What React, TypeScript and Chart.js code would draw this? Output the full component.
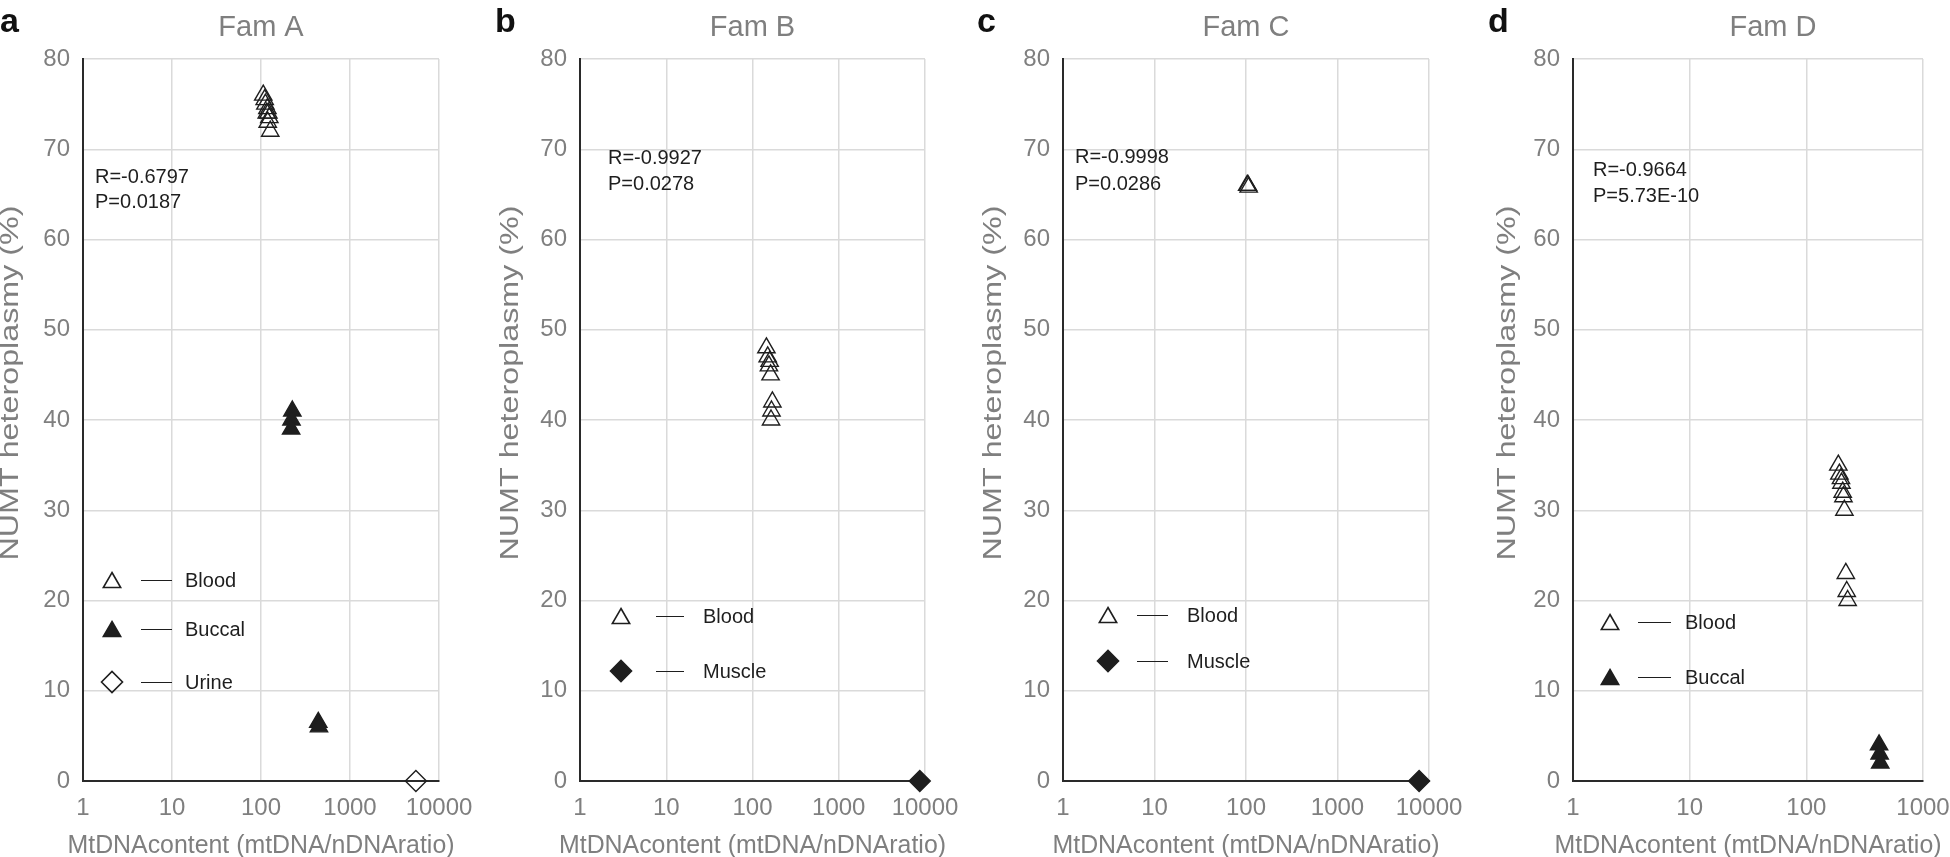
import React, { useEffect, useRef } from "react";
import { Chart, registerables } from "chart.js";
import { drawPoint } from "chart.js/helpers";

Chart.register(...registerables);

const FONT = '"Liberation Sans", Arial, Helvetica, sans-serif';
const GRAY = "#7f7f7f";
const INK = "#1e1e1e";
const GRID = "#dadada";
const AXIS = "#2a2a2a";

const Y_TITLE = "NUMT heteroplasmy (%)";
const X_TITLE = "MtDNAcontent (mtDNA/nDNAratio)";

// tick values
const xTicksWide = [1, 10, 100, 1000, 10000];
const xTicksNarrow = [1, 10, 100, 1000];

// Fam A
const famA_bloodX = [106, 110, 112, 118, 121, 116, 124, 119, 127];
const famA_bloodY = [76, 75.5, 75, 74.5, 74, 74, 73.5, 73, 72];
const famA_buccalX = [225, 220, 218, 440, 448];
const famA_buccalY = [41, 40, 39, 6.5, 6];
const famA_urineX = [5500];
const famA_urineY = [0];
const famA_stats = ["R=-0.6797", "P=0.0187"];

// Fam B
const famB_bloodX = [145, 150, 158, 155, 162, 170, 166, 164];
const famB_bloodY = [48, 47, 46.5, 46, 45, 42, 41, 40];
const famB_muscleX = [8700];
const famB_muscleY = [0];
const famB_stats = ["R=-0.9927", "P=0.0278"];

// Fam C
const famC_bloodX = [103, 105, 107];
const famC_bloodY = [66, 66, 65.8];
const famC_muscleX = [7800];
const famC_muscleY = [0];
const famC_stats = ["R=-0.9998", "P=0.0286"];

// Fam D
const famD_bloodX = [188, 192, 198, 200, 205, 208, 212, 218, 222, 226];
const famD_bloodY = [35, 34, 33.5, 33, 32, 31.5, 30, 23, 21, 20];
const famD_buccalX = [420, 425, 430];
const famD_buccalY = [4, 3, 2];
const famD_stats = ["R=-0.9664", "P=5.73E-10"];

type Shape = "triangle" | "rectRot";
type Series = { label: string; x: number[]; y: number[]; shape: Shape; filled: boolean };

const blood = (x: number[], y: number[]): Series => ({ label: "Blood", x, y, shape: "triangle", filled: false });
const buccal = (x: number[], y: number[]): Series => ({ label: "Buccal", x, y, shape: "triangle", filled: true });
const urine = (x: number[], y: number[]): Series => ({ label: "Urine", x, y, shape: "rectRot", filled: false });
const muscle = (x: number[], y: number[]): Series => ({ label: "Muscle", x, y, shape: "rectRot", filled: true });

const panels = [
  {
    letter: "a", title: "Fam A", left: 0, width: 495, yWidth: 83, padRight: 56, yTitleDx: 65,
    xMax: 10000, xTicks: xTicksWide, titleShift: 0,
    stats: famA_stats, statsDx: 12, statsY: [183, 208],
    legendDx: [29, 58, 89, 102], legendY: [580, 629, 682],
    series: [blood(famA_bloodX, famA_bloodY), buccal(famA_buccalX, famA_buccalY), urine(famA_urineX, famA_urineY)],
  },
  {
    letter: "b", title: "Fam B", left: 495, width: 482, yWidth: 85, padRight: 52, yTitleDx: 62,
    xMax: 10000, xTicks: xTicksWide, titleShift: 0,
    stats: famB_stats, statsDx: 28, statsY: [164, 190],
    legendDx: [41, 76, 104, 123], legendY: [616, 671],
    series: [blood(famB_bloodX, famB_bloodY), muscle(famB_muscleX, famB_muscleY)],
  },
  {
    letter: "c", title: "Fam C", left: 977, width: 511, yWidth: 86, padRight: 59, yTitleDx: 62,
    xMax: 10000, xTicks: xTicksWide, titleShift: 0,
    stats: famC_stats, statsDx: 12, statsY: [163, 190],
    legendDx: [45, 74, 105, 124], legendY: [615, 661],
    series: [blood(famC_bloodX, famC_bloodY), muscle(famC_muscleX, famC_muscleY)],
  },
  {
    letter: "d", title: "Fam D", left: 1488, width: 462, yWidth: 85, padRight: 27, yTitleDx: 58,
    xMax: 1000, xTicks: xTicksNarrow, titleShift: 25,
    stats: famD_stats, statsDx: 20, statsY: [176, 202],
    legendDx: [37, 65, 98, 112], legendY: [622, 677],
    series: [blood(famD_bloodX, famD_bloodY), buccal(famD_buccalX, famD_buccalY)],
  },
];

const radiusOf = (shape: Shape) => (shape === "triangle" ? 10 : 10.5);

// text drawn to a fixed length, the source figure is not uniformly scaled
function fitText(ctx: CanvasRenderingContext2D, text: string, x: number, y: number, length: number, angle: number) {
  ctx.save();
  ctx.font = `25px ${FONT}`;
  ctx.fillStyle = GRAY;
  ctx.textAlign = "center";
  ctx.textBaseline = "alphabetic";
  const w = ctx.measureText(text).width;
  ctx.translate(x, y);
  ctx.rotate(angle);
  ctx.scale(length / w, 1);
  ctx.fillText(text, 0, 0);
  ctx.restore();
}

// letter, titles, R/P note and in-plot legend
const decorPlugin = {
  id: "decor",
  afterDraw(chart: any, _args: any, opts: any) {
    const { ctx, chartArea } = chart;
    const left = chartArea.left;
    const mid = (chartArea.left + chartArea.right) / 2;
    ctx.save();

    ctx.font = `bold 34px ${FONT}`;
    ctx.fillStyle = "#111";
    ctx.textAlign = "left";
    ctx.textBaseline = "alphabetic";
    ctx.fillText(opts.letter, 0, 32);

    ctx.font = `29px ${FONT}`;
    ctx.fillStyle = GRAY;
    ctx.textAlign = "center";
    ctx.fillText(opts.title, mid + opts.titleShift, 36);

    fitText(ctx, Y_TITLE, left - opts.yTitleDx, 383, 355, -Math.PI / 2);
    fitText(ctx, X_TITLE, mid, 853, 387, 0);

    ctx.font = `20px ${FONT}`;
    ctx.fillStyle = INK;
    ctx.textAlign = "left";
    opts.stats.forEach((s: string, i: number) => ctx.fillText(s, left + opts.statsDx, opts.statsY[i]));

    const [mx, l0, l1, tx] = opts.legendDx;
    opts.series.forEach((s: Series, i: number) => {
      const y = opts.legendY[i];
      const r = radiusOf(s.shape);
      ctx.lineWidth = 1.6;
      ctx.strokeStyle = INK;
      ctx.fillStyle = s.filled ? INK : "rgba(0,0,0,0)";
      drawPoint(ctx, { pointStyle: s.shape, radius: r, borderWidth: 1.6, rotation: 0 } as any, left + mx, s.shape === "triangle" ? y + r / 4 : y);

      ctx.beginPath();
      ctx.lineWidth = 1;
      ctx.moveTo(left + l0, y + 0.5);
      ctx.lineTo(left + l1, y + 0.5);
      ctx.stroke();

      ctx.fillStyle = INK;
      ctx.textBaseline = "middle";
      ctx.fillText(s.label, left + tx, y + 1);
    });
    ctx.restore();
  },
};

function Panel({ p }: { p: (typeof panels)[number] }) {
  const ref = useRef<HTMLCanvasElement>(null);

  useEffect(() => {
    if (!ref.current) return;
    const chart = new Chart(ref.current, {
      type: "scatter",
      data: {
        datasets: p.series.map((s) => ({
          label: s.label,
          data: s.x.map((x, i) => ({ x, y: s.y[i] })),
          pointStyle: s.shape,
          pointRadius: radiusOf(s.shape),
          pointHoverRadius: radiusOf(s.shape),
          pointBorderWidth: 1.4,
          borderColor: INK,
          backgroundColor: s.filled ? INK : "rgba(0,0,0,0)",
          showLine: false,
          clip: false as any,
        })),
      },
      options: {
        animation: false,
        responsive: true,
        maintainAspectRatio: false,
        events: [],
        layout: { padding: { left: 0, top: 59, right: p.padRight, bottom: 0 } },
        plugins: {
          legend: { display: false },
          tooltip: { enabled: false },
          decor: {
            letter: p.letter, title: p.title, titleShift: p.titleShift, yTitleDx: p.yTitleDx,
            stats: p.stats, statsDx: p.statsDx, statsY: p.statsY,
            legendDx: p.legendDx, legendY: p.legendY, series: p.series,
          },
        } as any,
        scales: {
          x: {
            type: "logarithmic",
            min: 1,
            max: p.xMax,
            afterBuildTicks: (s: any) => {
              s.ticks = p.xTicks.map((v) => ({ value: v }));
            },
            afterFit: (s: any) => {
              s.height = 76;
              s.paddingLeft = 0;
              s.paddingRight = 0;
            },
            grid: { color: GRID, lineWidth: 1.5, drawTicks: false },
            border: { color: AXIS, width: 2 },
            ticks: {
              color: GRAY,
              font: { family: FONT, size: 24 },
              padding: 13,
              maxRotation: 0,
              autoSkip: false,
              callback: (v: any) => String(v),
            },
          },
          y: {
            min: 0,
            max: 80,
            afterFit: (s: any) => {
              s.width = p.yWidth;
            },
            grid: { color: GRID, lineWidth: 1.5, drawTicks: false },
            border: { color: AXIS, width: 2 },
            ticks: {
              stepSize: 10,
              color: GRAY,
              font: { family: FONT, size: 24 },
              padding: 13,
            },
          },
        },
      },
      plugins: [decorPlugin as any],
    });
    return () => chart.destroy();
  }, [p]);

  return (
    <div style={{ position: "absolute", left: p.left, top: 0, width: p.width, height: 857 }}>
      <canvas ref={ref} />
    </div>
  );
}

export default function App() {
  return (
    <div style={{ position: "absolute", left: 0, top: 0, width: 1950, height: 857, background: "#fff" }}>
      {panels.map((p) => (
        <Panel key={p.letter} p={p} />
      ))}
    </div>
  );
}
